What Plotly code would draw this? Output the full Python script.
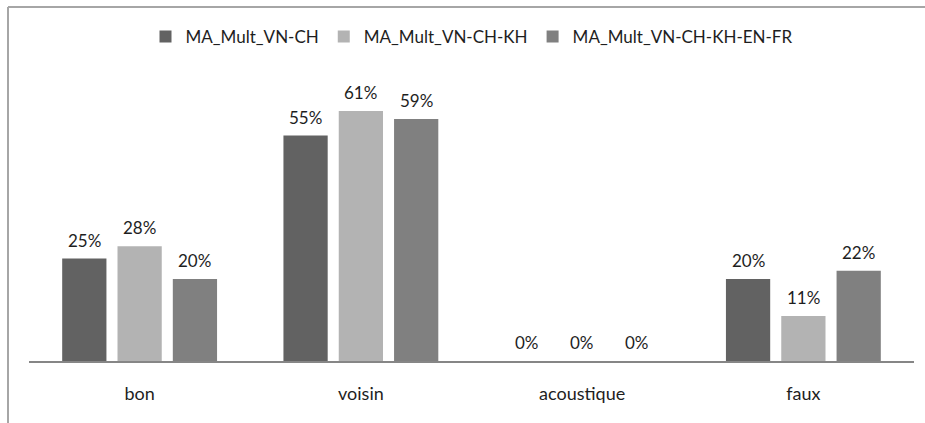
import plotly.graph_objects as go

categories = ["bon", "voisin", "acoustique", "faux"]
series_names = ["MA_Mult_VN-CH", "MA_Mult_VN-CH-KH", "MA_Mult_VN-CH-KH-EN-FR"]
vals_vn_ch = [25, 55, 0, 20]
vals_vn_ch_kh = [28, 61, 0, 11]
vals_vn_ch_kh_en_fr = [20, 59, 0, 22]
series_values = [vals_vn_ch, vals_vn_ch_kh, vals_vn_ch_kh_en_fr]
colors = ["#626262", "#b3b3b3", "#808080"]

FONT = "Lato"
TEXT_COLOR = "#1e1e1e"

W, H = 925, 423
ml, mr, mt, mb = 29, 11, 74, 62
pw, ph = W - ml - mr, H - mt - mb
BARGAP = 0.25
BARGROUPGAP = 0.2

fig = go.Figure()
for name, vals, col in zip(series_names, series_values, colors):
    fig.add_trace(go.Bar(
        x=categories, y=vals, name=name,
        marker=dict(color=col, line=dict(width=0)),
    ))

# value labels above each bar, offset horizontally to sit over its group slot
slot = pw / len(categories) * (1 - BARGAP) / len(series_names)
annotations = []
for i, vals in enumerate(series_values):
    offset = (i - (len(series_names) - 1) / 2) * slot
    for cat, v in zip(categories, vals):
        annotations.append(dict(
            x=cat, y=v, xref="x", yref="y",
            text=f"{v}%", showarrow=False,
            xanchor="center", yanchor="bottom",
            xshift=offset, yshift=6,
            font=dict(family=FONT, size=17, color=TEXT_COLOR),
        ))


def px_x(p):
    return (p - ml) / pw


def px_y(p):
    return (H - mb - p) / ph


fig.update_layout(
    width=W, height=H,
    margin=dict(l=ml, r=mr, t=mt, b=mb),
    paper_bgcolor="white", plot_bgcolor="white",
    barmode="group", bargap=BARGAP, bargroupgap=BARGROUPGAP,
    font=dict(family=FONT, size=17, color=TEXT_COLOR),
    showlegend=True,
    legend=dict(
        orientation="h", x=0.5, xanchor="center",
        y=px_y(37), yanchor="middle",
        font=dict(family=FONT, size=17, color=TEXT_COLOR),
        bgcolor="rgba(0,0,0,0)",
    ),
    xaxis=dict(
        showline=True, linecolor="#868686", linewidth=2,
        ticks="", showgrid=False, zeroline=False,
        tickfont=dict(family=FONT, size=18, color=TEXT_COLOR),
        ticklabelstandoff=15,
    ),
    yaxis=dict(range=[0, 70], visible=False, showgrid=False, zeroline=False),
    annotations=annotations,
    shapes=[
        dict(type="line", xref="paper", yref="paper",
             x0=px_x(8), x1=px_x(W + 5), y0=px_y(7), y1=px_y(7),
             line=dict(color="#a6a6a6", width=2)),
        dict(type="line", xref="paper", yref="paper",
             x0=px_x(8), x1=px_x(8), y0=px_y(7), y1=px_y(H + 5),
             line=dict(color="#a6a6a6", width=2)),
    ],
)

fig.write_html("out.html")
